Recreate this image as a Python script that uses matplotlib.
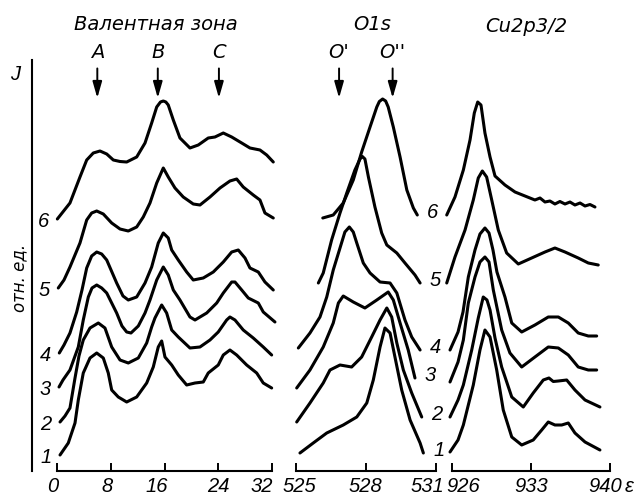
import matplotlib
matplotlib.use('Agg')
import matplotlib.pyplot as plt
import matplotlib.font_manager as fm
import matplotlib.transforms as mtransforms


def pick_font(names):
    for n in names:
        try:
            fm.findfont(fm.FontProperties(family=n), fallback_to_default=False)
            return n
        except ValueError:
            pass
    return 'DejaVu Sans'


plt.rcParams['font.family'] = ['DejaVu Sans']
narrow = pick_font(['Liberation Sans Narrow', 'Liberation Sans', 'DejaVu Sans'])
num_font = dict(family=[narrow, 'DejaVu Sans'], style='italic', size=14.5)
txt_font = dict(family=['DejaVu Sans'], style='italic', size=14)

# ---- Валентная зона (энергия связи, эВ) ----
vb6_e = [0.05, 1.93, 3.42, 4.42, 5.40, 6.40, 7.40, 8.38, 9.38, 10.37, 11.86, 13.10, 14.09, 14.84, 15.40, 15.82,
         16.20, 16.56, 17.31, 18.30, 19.79, 21.03, 22.51, 23.51, 24.75, 26.00, 27.49, 28.72, 30.21, 31.21, 32.19]
vb6_i = [25.2, 26.8, 29.4, 31.1, 31.8, 32.0, 31.7, 31.1, 30.95, 30.9, 31.4, 32.8, 34.8, 36.4, 36.9, 37.0,
         36.9, 36.6, 35.1, 33.3, 32.3, 32.6, 33.3, 33.4, 33.8, 33.4, 32.8, 32.3, 32.1, 31.6, 30.9]
vb5_e = [0.19, 1.04, 1.93, 3.42, 4.42, 5.16, 5.91, 6.89, 8.14, 9.38, 10.61, 11.86, 12.84, 13.84, 14.84, 15.82,
         16.56, 17.56, 18.79, 20.28, 21.28, 22.77, 24.26, 25.74, 26.74, 27.72, 29.21, 30.21, 30.95, 32.19]
vb5_i = [18.3, 19.1, 20.4, 22.8, 25.1, 25.8, 26.0, 25.7, 24.8, 24.2, 24.0, 24.4, 25.4, 26.8, 28.8, 30.3,
         29.4, 28.3, 27.4, 26.7, 26.6, 27.4, 28.3, 29.0, 29.2, 28.4, 27.6, 27.1, 25.8, 25.3]
vb4_e = [0.34, 1.04, 1.93, 2.93, 3.72, 4.42, 5.16, 5.91, 6.65, 7.40, 8.88, 9.82, 10.61, 11.86, 13.10, 14.09,
         15.07, 15.82, 16.56, 17.07, 18.05, 19.30, 20.28, 21.77, 23.26, 24.75, 26.00, 26.98, 27.98, 28.72,
         29.96, 30.95, 32.19]
vb4_i = [11.8, 12.6, 13.8, 15.9, 18.1, 20.3, 21.5, 21.9, 21.7, 21.1, 18.8, 17.5, 17.1, 17.4, 18.8, 20.4,
         22.8, 23.8, 23.3, 22.1, 21.1, 19.9, 19.1, 19.3, 19.9, 20.9, 21.9, 22.1, 21.3, 20.3,
         19.9, 18.9, 18.1]
vb3_e = [0.30, 0.89, 1.93, 3.17, 3.91, 4.66, 5.21, 5.91, 6.65, 7.40, 8.88, 9.67, 10.37, 11.01, 12.10, 13.10,
         13.84, 14.84, 15.82, 16.56, 17.31, 18.30, 19.79, 20.54, 22.28, 23.77, 24.75, 26.00, 26.49, 27.49,
         28.47, 29.96, 30.70, 32.44]
vb3_i = [8.4, 9.1, 10.1, 12.4, 15.1, 17.4, 18.3, 18.6, 18.3, 17.8, 15.8, 14.5, 13.9, 13.8, 14.5, 15.8,
         17.1, 19.1, 20.4, 19.6, 18.1, 17.1, 15.4, 15.1, 15.8, 16.8, 17.8, 18.9, 18.9, 18.1,
         17.3, 16.8, 15.9, 14.9]
vb2_e = [0.45, 1.19, 1.93, 2.68, 3.27, 3.91, 4.91, 6.15, 7.14, 8.14, 9.38, 10.61, 12.10, 13.35, 14.09, 14.58,
         15.58, 16.32, 17.07, 18.05, 19.79, 21.28, 22.77, 24.00, 25.25, 25.74, 26.49, 27.72, 29.21, 30.70, 31.95]
vb2_i = [4.9, 5.5, 6.3, 9.3, 11.5, 13.1, 14.3, 14.8, 14.3, 12.4, 11.1, 10.8, 11.3, 12.8, 14.4, 15.3,
         16.6, 15.8, 14.1, 13.4, 12.3, 12.4, 13.1, 13.9, 15.1, 15.4, 15.1, 14.1, 13.3, 12.4, 11.6]
vb1_e = [0.45, 1.68, 2.68, 3.17, 3.91, 4.91, 5.91, 6.89, 7.63, 8.14, 9.12, 10.37, 11.86, 13.35, 14.33, 15.07,
         15.58, 16.07, 17.07, 18.05, 19.30, 20.54, 21.77, 22.51, 24.00, 24.75, 25.74, 26.74, 28.23, 29.72,
         30.70, 31.95]
vb1_i = [1.6, 2.8, 4.8, 7.1, 9.8, 11.3, 11.8, 11.3, 9.8, 8.1, 7.4, 6.9, 7.4, 8.8, 10.4, 12.4,
         13.0, 11.4, 10.6, 9.6, 8.6, 8.8, 8.9, 9.8, 10.6, 11.6, 12.1, 11.6, 10.6, 9.8,
         8.8, 8.3]

# ---- O1s ----
o6_e = [526.15, 526.60, 527.03, 527.46, 527.82, 528.18, 528.47, 528.58, 528.72, 528.85, 528.96, 529.18, 529.47,
        529.76, 530.04, 530.21]
o6_i = [25.3, 25.6, 26.8, 29.1, 31.9, 34.4, 36.4, 36.95, 37.2, 37.0, 36.4, 34.4, 31.4, 28.1, 26.3, 25.6]
o5_e = [525.96, 526.17, 526.53, 526.89, 527.18, 527.53, 527.75, 527.85, 527.96, 528.11, 528.39, 528.68, 528.90,
        529.33, 529.68, 530.11, 530.33]
o5_i = [18.8, 19.8, 23.1, 25.8, 27.8, 30.1, 31.2, 31.45, 31.2, 29.4, 26.4, 23.8, 22.6, 21.8, 20.8, 19.6, 18.8]
o4_e = [525.10, 525.60, 526.03, 526.32, 526.60, 526.89, 527.10, 527.29, 527.46, 527.61, 527.89, 528.18, 528.61,
        529.04, 529.33, 529.68, 529.97, 530.33]
o4_i = [12.3, 13.8, 15.4, 17.4, 20.1, 22.3, 23.9, 24.4, 23.9, 22.8, 20.8, 19.8, 18.9, 18.8, 17.8, 15.1, 13.4, 12.1]
o3_e = [525.03, 525.60, 526.17, 526.60, 526.82, 527.03, 527.46, 527.96, 528.47, 528.96, 529.18, 529.47, 529.82,
        530.11]
o3_i = [8.3, 10.1, 12.4, 14.8, 16.8, 17.5, 16.9, 16.3, 17.1, 17.9, 17.1, 14.8, 12.1, 9.3]
o2_e = [525.03, 525.60, 526.17, 526.46, 526.89, 527.39, 527.82, 528.25, 528.61, 528.90, 529.11, 529.33, 529.61,
        529.97, 530.40]
o2_i = [4.9, 6.8, 8.8, 10.1, 10.6, 10.4, 11.4, 13.4, 15.1, 16.3, 15.4, 12.8, 10.1, 7.8, 5.4]
o1_e = [525.17, 525.74, 526.32, 527.03, 527.61, 528.04, 528.32, 528.61, 528.82, 529.04, 529.25, 529.54, 529.90,
        530.33, 530.47]
o1_i = [1.8, 2.8, 3.8, 4.6, 5.4, 6.8, 9.1, 12.4, 14.3, 13.8, 11.4, 8.1, 5.1, 2.8, 1.8]

# ---- Cu2p3/2 ----
cu6_e = [925.56, 926.29, 927.03, 927.62, 928.00, 928.30, 928.59, 928.94, 929.39, 929.83, 930.71, 931.60, 932.48,
         933.36, 933.81, 934.25, 934.69, 935.13, 935.57, 936.02, 936.46, 936.90, 937.35, 937.79, 938.23, 938.67]
cu6_i = [25.6, 27.4, 30.1, 33.1, 35.8, 36.9, 36.6, 33.8, 31.4, 29.5, 28.6, 27.9, 27.5,
         27.1, 27.3, 26.9, 27.0, 26.7, 26.95, 26.7, 26.9, 26.6, 26.8, 26.5, 26.65, 26.4]
cu5_e = [925.56, 926.29, 927.18, 927.91, 928.35, 928.71, 929.09, 929.54, 930.12, 930.86, 931.89, 933.07, 934.25,
         935.13, 936.02, 937.19, 938.08, 938.96]
cu5_i = [18.8, 21.4, 24.1, 27.1, 29.3, 30.0, 29.4, 27.1, 24.1, 21.8, 20.7, 21.3, 21.9, 22.3, 21.9, 21.3, 20.8, 20.6]
cu4_e = [925.85, 926.56, 927.00, 927.47, 928.06, 928.50, 928.94, 929.30, 929.65, 930.00, 930.71, 931.31, 932.19,
         933.36, 934.54, 935.43, 936.31, 937.19, 938.08, 938.82]
cu4_i = [12.1, 13.9, 15.9, 19.4, 22.1, 23.7, 24.3, 23.8, 22.1, 19.9, 17.4, 14.8, 13.9, 14.6, 15.4, 15.4, 14.8,
         13.8, 13.5, 13.5]
cu3_e = [925.85, 926.56, 927.03, 927.47, 928.06, 928.50, 928.94, 929.30, 929.68, 930.42, 931.15, 932.19, 933.36,
         934.54, 935.43, 936.31, 937.19, 938.08, 938.82]
cu3_i = [8.9, 10.9, 13.1, 16.8, 19.4, 20.9, 21.4, 20.9, 18.1, 14.1, 11.8, 10.4, 11.4, 12.4, 12.3, 11.6, 10.4,
         10.1, 10.1]
cu2_e = [925.85, 926.56, 927.03, 927.77, 928.35, 928.79, 929.12, 929.39, 929.83, 930.42, 931.31, 932.33, 933.21,
         934.10, 934.60, 934.98, 935.43, 936.17, 936.90, 937.79, 939.11]
cu2_i = [5.4, 7.1, 8.6, 12.1, 15.3, 17.4, 17.1, 16.1, 13.3, 10.4, 7.4, 6.4, 7.8, 9.1, 9.3, 8.95, 9.0, 9.1, 8.1,
         7.1, 6.4]
cu1_e = [925.85, 926.56, 927.03, 927.91, 928.50, 928.94, 929.39, 929.98, 930.56, 931.31, 932.19, 933.21, 933.96,
         934.54, 935.13, 935.73, 936.31, 936.90, 937.79, 939.11]
cu1_i = [1.9, 3.1, 4.6, 8.6, 12.1, 14.1, 13.4, 10.1, 6.1, 3.4, 2.6, 3.1, 4.1, 4.9, 4.6, 4.6, 4.8, 3.8, 2.9, 2.1]

curve_ids = ['1', '2', '3', '4', '5', '6']
vb_curves = [(vb1_e, vb1_i), (vb2_e, vb2_i), (vb3_e, vb3_i), (vb4_e, vb4_i), (vb5_e, vb5_i), (vb6_e, vb6_i)]
o_curves = [(o1_e, o1_i), (o2_e, o2_i), (o3_e, o3_i), (o4_e, o4_i), (o5_e, o5_i), (o6_e, o6_i)]
cu_curves = [(cu1_e, cu1_i), (cu2_e, cu2_i), (cu3_e, cu3_i), (cu4_e, cu4_i), (cu5_e, cu5_i), (cu6_e, cu6_i)]

vb_ticks = [0, 8, 16, 24, 32]
o_ticks = [525, 528, 531]
cu_ticks = [926, 933, 940]

vb_marks = ['A', 'B', 'C']
vb_mark_pos = [6.0, 15.0, 24.1]
o_marks = ["O'", "O''"]
o_mark_pos = [526.85, 529.15]

# ---- layout (pixel geometry of the original figure) ----
W, H = 644, 495
fig = plt.figure(figsize=(W / 100, H / 100), dpi=100)
Y_TOP = 41.1


def panel(x0, x1):
    return fig.add_axes([x0 / W, (H - 471) / H, (x1 - x0) / W, (471 - 60) / H])


ax1 = panel(57, 272)
ax2 = panel(296, 435.7)
ax3 = panel(451.7, 610)

for ax, curves, ticks, lim in [(ax1, vb_curves, vb_ticks, (0, 32)),
                               (ax2, o_curves, o_ticks, (525, 531)),
                               (ax3, cu_curves, cu_ticks, (926, 940))]:
    ax.patch.set_alpha(0)
    for e, i in curves:
        ax.plot(e, i, color='black', lw=2.2, solid_joinstyle='round', solid_capstyle='round', clip_on=False)
    ax.set_xlim(*lim)
    ax.set_ylim(0, Y_TOP)
    ax.set_xticks(ticks)
    ax.set_xticklabels([str(t) for t in ticks], **num_font)
    ax.set_yticks([])
    ax.tick_params(axis='x', direction='in', length=6, width=1.4, pad=4)
    for s in ['top', 'right', 'left']:
        ax.spines[s].set_visible(False)
    ax.spines['bottom'].set_linewidth(1.5)

ax1.spines['left'].set_visible(True)
ax1.spines['left'].set_linewidth(1.5)
ax1.spines['left'].set_position(('outward', 18))


def shift_labels(ax, dxs):
    for lab, dx in zip(ax.get_xticklabels(), dxs):
        lab.set_transform(lab.get_transform() + mtransforms.ScaledTranslation(dx / 100, 0, fig.dpi_scale_trans))


shift_labels(ax1, [-4, -4, -8, 0, -10])
shift_labels(ax2, [3, 0, -8])
shift_labels(ax3, [11, 0, -5])

# arrows over the peaks
for ax, marks, pos in [(ax1, vb_marks, vb_mark_pos), (ax2, o_marks, o_mark_pos)]:
    for m, x in zip(marks, pos):
        ax.annotate(m, xy=(x, 37.3), xytext=(x, 41.9), ha='center', va='center', annotation_clip=False,
                    arrowprops=dict(arrowstyle='-|>,head_length=0.7,head_width=0.2', color='black', lw=1.4,
                                    shrinkA=3, shrinkB=0),
                    **txt_font)

# curve numbers
for n, (e, i) in zip(curve_ids, vb_curves):
    ax1.annotate(n, xy=(e[0], i[0]), xytext=(-10, -2), textcoords='offset points',
                 ha='center', va='center', annotation_clip=False, **num_font)
for n, (e, i) in zip(curve_ids, o_curves):
    ax2.annotate(n, xy=(e[-1], i[-1]), xytext=(11, 2), textcoords='offset points',
                 ha='center', va='center', annotation_clip=False, **num_font)

# titles and axis words
fig.text(156 / W, 1 - 25 / H, 'Валентная зона', ha='center', va='center', **txt_font)
fig.text(372 / W, 1 - 25 / H, 'O1s', ha='center', va='center', **txt_font)
fig.text(526 / W, 1 - 26 / H, 'Cu2p3/2', ha='center', va='center', **txt_font)
fig.text(15 / W, 1 - 75 / H, 'J', ha='center', va='center', **num_font)
fig.text(19 / W, 1 - 278 / H, 'отн. ед.', ha='center', va='center', rotation=90,
         family='DejaVu Sans', style='italic', size=12)
fig.text(629 / W, 1 - 486 / H, 'ε', ha='center', va='center', **num_font)

fig.savefig('out.png', dpi=100)
